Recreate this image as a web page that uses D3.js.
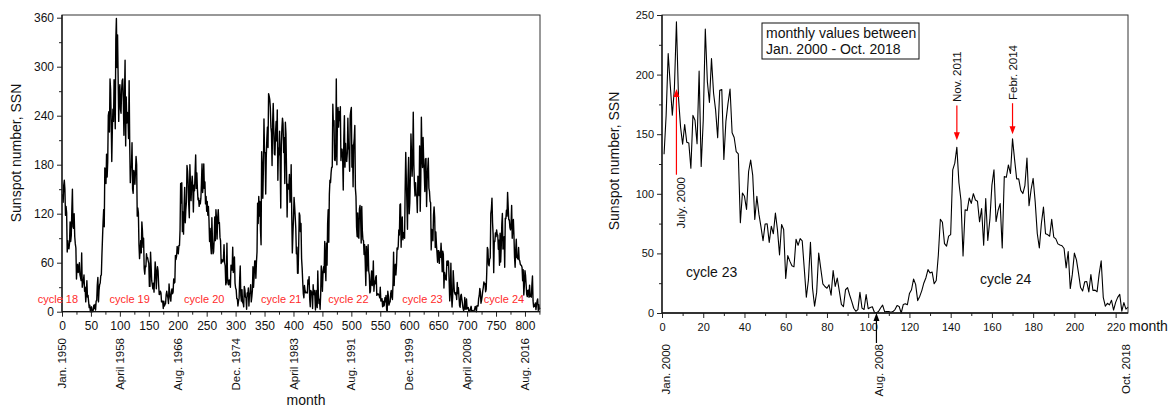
<!DOCTYPE html>
<html>
<head>
<meta charset="utf-8">
<script src="https://cdn.jsdelivr.net/npm/d3@7"></script>
<style>
  body { margin: 0; background: #fff; }
  text { font-family: Arial, "Liberation Sans", sans-serif; }
</style>
</head>
<body>
<svg id="chart" width="1173" height="409"></svg>
<script>
// monthly sunspot numbers (one row per year)
const ssn1950s = [
  144,134,155,161,150,118,129,121,73,87,78,77,
  84,110,86,93,125,150,104,102,120,92,83,78,
  40,55,58,48,50,60,45,42,38,72,30,35,
  38,45,25,30,12,22,38,18,20,12,5,8,
  0,4,6,1,0,2,8,4,9,2,13,14,
  33,42,12,26,33,35,44,45,70,90,110,125,
  104,176,168,157,193,165,183,240,245,220,285,272,
  234,184,223,248,233,284,265,224,334,359,299,339,
  287,233,270,278,248,243,271,283,285,257,216,266,
  308,203,263,231,244,239,212,283,206,158,176,177
];
const ssn1960s = [
  207,150,145,173,169,156,172,190,180,117,127,121,
  82,65,75,87,72,110,99,79,90,53,46,56,
  55,71,65,66,62,59,31,31,73,56,38,33,
  28,35,24,41,61,51,28,47,55,50,33,21,
  22,25,23,12,13,13,4,13,7,9,10,21,
  25,20,17,10,34,23,17,13,24,28,22,24,
  40,35,36,69,64,68,80,73,71,81,81,100,
  157,133,158,98,122,95,130,152,109,125,134,179,
  172,158,131,115,180,156,136,155,166,153,122,155,
  148,171,192,151,170,150,137,139,129,136,132,139
];
const ssn1970s = [
  158,181,146,155,181,151,159,132,141,123,135,118,
  129,112,86,102,81,71,115,87,71,73,89,116,
  87,125,113,89,114,125,108,109,91,87,59,64,
  61,61,65,82,60,56,33,36,84,43,34,33,
  39,37,30,57,56,51,79,48,57,67,35,29,
  27,16,16,7,13,16,40,56,20,13,27,11,
  11,6,31,27,18,17,3,23,19,29,7,22,
  23,33,12,18,26,55,30,43,62,62,41,61,
  73,133,108,141,117,135,100,82,196,177,139,174,
  236,195,195,144,190,212,226,201,267,264,260,250
];
const ssn1980s = [
  226,219,179,232,255,223,193,192,219,233,209,247,
  161,200,192,221,181,127,204,225,237,230,195,213,
  157,232,218,173,116,156,150,152,168,134,139,180,
  119,72,94,114,140,129,116,102,71,79,47,47,
  81,121,118,98,108,65,53,36,22,17,32,26,
  23,23,24,23,39,34,43,16,6,26,23,24,
  4,33,21,26,19,2,26,10,5,50,22,10,
  15,3,21,56,47,25,47,55,48,86,56,38,
  84,57,108,125,85,144,161,158,170,177,177,254,
  228,234,186,185,196,285,180,239,250,226,245,234
];
const ssn1990s = [
  251,185,199,199,187,149,212,240,177,206,186,184,
  194,237,201,198,172,240,246,250,177,204,153,204,
  212,228,151,141,104,92,121,91,90,126,130,117,
  84,129,99,88,87,70,82,60,32,80,50,69,
  82,50,45,23,25,40,50,32,36,62,25,37,
  34,42,44,20,21,22,21,20,17,30,13,14,
  16,6,13,7,8,17,12,20,2,1,25,19,
  8,11,12,22,26,18,15,35,73,32,55,58,
  45,57,78,76,80,100,94,131,132,79,105,116,
  88,94,97,90,151,195,161,133,101,165,189,120
];
const ssn2000s = [
  133.1,165.7,217.7,191.5,165.9,188.0,244.3,180.5,156.0,141.6,158.1,143.3,
  142.6,121.5,165.8,161.7,142.1,202.9,123.0,161.5,238.2,194.1,176.6,213.4,
  184.6,170.2,147.1,186.9,187.5,128.8,161.0,175.6,187.9,151.2,147.2,135.3,
  133.5,75.7,100.7,97.9,86.8,118.7,128.3,115.4,78.5,97.8,82.9,72.2,
  60.6,74.6,74.8,59.2,72.8,66.5,83.8,69.7,48.8,74.2,70.1,28.9,
  48.1,43.5,39.6,38.7,61.9,56.8,62.4,60.5,37.2,13.2,27.5,59.3,
  20.9,5.7,17.3,50.3,37.2,24.5,22.2,20.8,23.7,14.9,35.7,22.3,
  29.3,18.4,7.2,5.4,19.5,21.3,15.1,9.8,4.0,1.5,2.8,17.3,
  4.1,2.9,15.5,3.6,4.6,5.2,0.6,0.3,1.2,4.2,6.6,1.0,
  1.3,1.2,0.6,1.2,2.9,6.3,5.5,0.0,7.1,7.7,6.9,16.3
];
const ssn2010s = [
  19.5,28.5,24.0,10.4,13.9,18.8,25.2,29.6,36.4,33.6,34.4,24.5,
  27.3,48.3,78.6,76.1,58.2,56.1,64.5,65.8,120.1,125.7,139.1,109.3,
  94.4,47.8,86.6,85.9,96.5,92.0,100.1,94.8,93.7,76.5,87.6,56.8,
  96.1,60.9,78.3,107.3,120.2,76.7,86.2,91.8,54.5,114.4,113.9,124.2,
  117.0,146.1,128.7,112.5,112.5,102.9,100.2,106.9,130.0,90.0,103.6,112.9,
  93.0,66.7,54.5,75.3,88.8,66.5,65.8,64.4,78.6,63.6,62.2,58.0,
  57.0,56.4,54.1,37.9,51.5,20.5,32.4,50.2,44.6,33.4,21.4,18.5,
  26.1,26.4,17.7,32.3,18.9,19.2,17.8,32.6,43.7,13.2,5.7,8.2,
  6.8,10.7,2.5,8.9,13.1,15.6,1.6,8.7,3.3,4.9
];

const leftSeries = ssn1950s.concat(ssn1960s, ssn1970s, ssn1980s, ssn1990s, ssn2000s, ssn2010s);
const rightSeries = ssn2000s.concat(ssn2010s);

const leftDateTicks = [0, 100, 200, 300, 400, 500, 600, 700, 800];
const leftDateLabels = ["Jan. 1950", "April 1958", "Aug. 1966", "Dec. 1974", "April 1983",
                        "Aug. 1991", "Dec. 1999", "April 2008", "Aug. 2016"];
const rightDateTicks = [2, 105, 225];
const rightDateLabels = ["Jan. 2000", "Aug. 2008", "Oct. 2018"];

const cycleNames = ["cycle 18", "cycle 19", "cycle 20", "cycle 21", "cycle 22", "cycle 23", "cycle 24"];
const cycleAt = [-42, 82, 211, 344, 460, 588, 729];

const svg = d3.select("#chart");

function drawAxes(g, x, y, opt) {
    const [x0, x1] = x.range();
    const [y0, y1] = y.range();

    // minor ticks first, then major
    g.append("g").attr("transform", `translate(0,${y0})`)
        .call(d3.axisBottom(x).tickValues(opt.xMinor).tickSize(3).tickFormat(""))
        .call(a => a.select(".domain").remove());
    g.append("g").attr("transform", `translate(0,${y0})`)
        .call(d3.axisBottom(x).tickValues(opt.xMajor).tickSize(5).tickSizeOuter(0).tickPadding(5))
        .call(a => a.select(".domain").remove())
        .selectAll("text").style("font-size", opt.fs + "px");

    g.append("g").attr("transform", `translate(${x0},0)`)
        .call(d3.axisLeft(y).tickValues(opt.yMinor).tickSize(3).tickFormat(""))
        .call(a => a.select(".domain").remove());
    g.append("g").attr("transform", `translate(${x0},0)`)
        .call(d3.axisLeft(y).tickValues(opt.yMajor).tickSize(5).tickSizeOuter(0).tickPadding(3))
        .call(a => a.select(".domain").remove())
        .selectAll("text").style("font-size", opt.fs + "px");

    g.selectAll(".tick line").attr("stroke", "#222");
    g.selectAll(".tick text").attr("fill", "#111");

    // frame
    g.append("rect")
        .attr("x", x0).attr("y", y1)
        .attr("width", x1 - x0).attr("height", y0 - y1)
        .attr("fill", "none").attr("stroke", "#333").attr("stroke-width", 1);
    g.append("line")
        .attr("x1", x0).attr("x2", x1).attr("y1", y0).attr("y2", y0)
        .attr("stroke", "#111").attr("stroke-width", 1.3);
    g.append("line")
        .attr("x1", x0).attr("x2", x0).attr("y1", y0).attr("y2", y1)
        .attr("stroke", "#111").attr("stroke-width", 1.3);
}

function arrow(g, x, yFrom, yTo, color) {
    const dir = yTo > yFrom ? 1 : -1;
    g.append("line")
        .attr("x1", x).attr("x2", x)
        .attr("y1", yFrom).attr("y2", yTo - dir * 7)
        .attr("stroke", color).attr("stroke-width", 1.2);
    g.append("path")
        .attr("d", `M${x - 3},${yTo - dir * 8} L${x + 3},${yTo - dir * 8} L${x},${yTo} Z`)
        .attr("fill", color);
}

function rotLabel(g, x, y, txt, anchor, size) {
    g.append("text")
        .attr("transform", `translate(${x},${y}) rotate(-90)`)
        .attr("text-anchor", anchor)
        .attr("dy", "0.35em")
        .style("font-size", size + "px")
        .attr("fill", "#111")
        .text(txt);
}

// ---------- left panel: 1950 - 2018 ----------
const xL = d3.scaleLinear().domain([0, 826]).range([62, 540]);
const yL = d3.scaleLinear().domain([0, 363.3]).range([311.7, 15]);
const gL = svg.append("g");

gL.append("path")
    .datum(leftSeries)
    .attr("fill", "none")
    .attr("stroke", "#000")
    .attr("stroke-width", 1.4)
    .attr("stroke-linejoin", "round")
    .attr("d", d3.line().x((d, i) => xL(i + 1)).y(d => yL(d)));

drawAxes(gL, xL, yL, {
    xMajor: d3.range(0, 801, 50), xMinor: d3.range(25, 826, 50),
    yMajor: d3.range(0, 361, 60), yMinor: d3.range(30, 361, 60), fs: 12
});

cycleNames.forEach((c, i) => {
    gL.append("text")
        .attr("x", xL(cycleAt[i])).attr("y", 303)
        .style("font-size", "11px")
        .attr("fill", "#ff2b2b")
        .text(c);
});

leftDateTicks.forEach((t, i) => rotLabel(gL, xL(t), 338, leftDateLabels[i], "end", 11.5));

gL.append("text")
    .attr("x", 306).attr("y", 405)
    .attr("text-anchor", "middle")
    .style("font-size", "14px").attr("fill", "#111")
    .text("month");
rotLabel(gL, 16, 153, "Sunspot number, SSN", "middle", 14);

// ---------- right panel: Jan 2000 - Oct 2018 ----------
const xR = d3.scaleLinear().domain([0, 226]).range([662, 1128]);
const yR = d3.scaleLinear().domain([0, 250]).range([313, 15]);
const gR = svg.append("g");

gR.append("path")
    .datum(rightSeries)
    .attr("fill", "none")
    .attr("stroke", "#000")
    .attr("stroke-width", 1.1)
    .attr("stroke-linejoin", "round")
    .attr("d", d3.line().x((d, i) => xR(i + 1)).y(d => yR(d)));

drawAxes(gR, xR, yR, {
    xMajor: d3.range(0, 221, 20), xMinor: d3.range(10, 226, 20),
    yMajor: d3.range(0, 251, 50), yMinor: d3.range(25, 251, 50), fs: 11
});

rightDateTicks.forEach((t, i) => rotLabel(gR, xR(t), 344, rightDateLabels[i], "end", 11.5));
arrow(gR, xR(104), 343, yR(0), "#000");

gR.append("text")
    .attr("x", 1129).attr("y", 331)
    .style("font-size", "14px").attr("fill", "#111")
    .text("month");
rotLabel(gR, 614, 161, "Sunspot number, SSN", "middle", 14);

// legend box
gR.append("rect")
    .attr("x", 762).attr("y", 23).attr("width", 157).attr("height", 36)
    .attr("fill", "#fff").attr("stroke", "#111").attr("stroke-width", 1);
gR.append("text").attr("x", 766).attr("y", 38).style("font-size", "14px").attr("fill", "#111")
    .text("monthly values between");
gR.append("text").attr("x", 766).attr("y", 54).style("font-size", "14px").attr("fill", "#111")
    .text("Jan. 2000 - Oct. 2018");

// peak annotations
arrow(gR, xR(7), yR(116), yR(188), "red");
rotLabel(gR, xR(7) + 5, 177, "July. 2000", "end", 11.5);
arrow(gR, xR(143), yR(174), yR(145), "red");
rotLabel(gR, xR(143), 102, "Nov. 2011", "start", 11.5);
arrow(gR, xR(170), yR(176), yR(150), "red");
rotLabel(gR, xR(170), 100, "Febr. 2014", "start", 11.5);

gR.append("text").attr("x", 686).attr("y", 277).style("font-size", "14px").attr("fill", "#111")
    .text("cycle 23");
gR.append("text").attr("x", 980).attr("y", 284).style("font-size", "14px").attr("fill", "#111")
    .text("cycle 24");
</script>
</body>
</html>
